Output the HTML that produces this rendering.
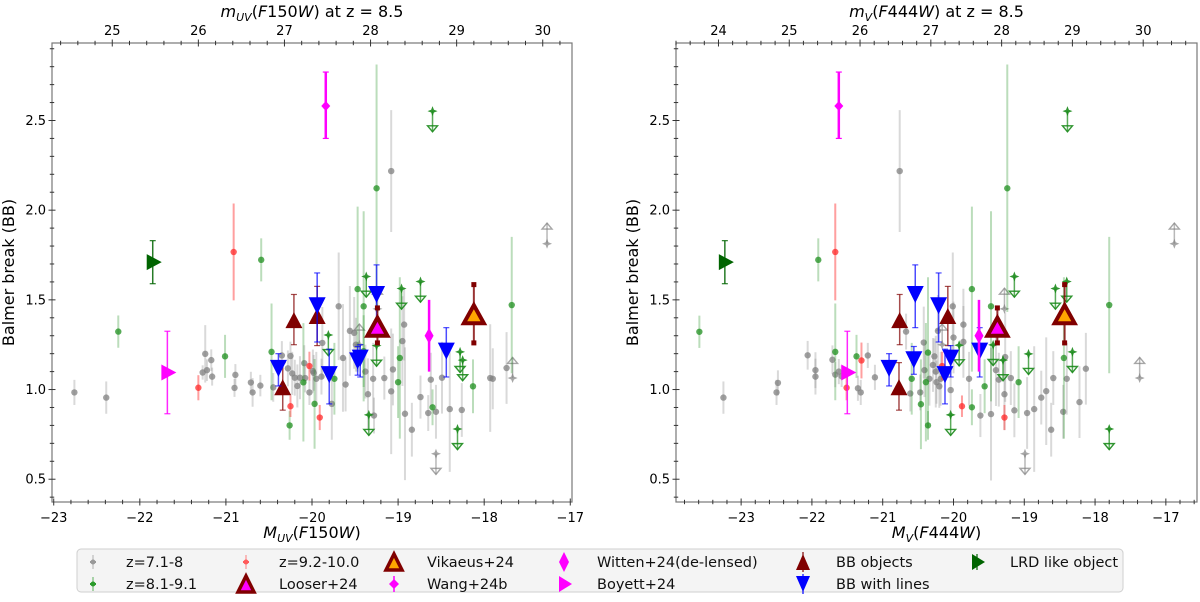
<!DOCTYPE html>
<html><head><meta charset="utf-8"><style>
html,body{margin:0;padding:0;background:#fff;}
svg{display:block;font-family:"DejaVu Sans","Liberation Sans",sans-serif;}
</style></head><body>
<svg id="chart" width="1200" height="602" viewBox="0 0 1200 602" xmlns="http://www.w3.org/2000/svg"></svg>
<script>
// ---------- DATA (left panel: M_UV) ----------
const leftGray=[[-22.76,0.984,.07],[-22.39,0.955,.09],[-21.27,1.095,.04],[-21.24,1.199,.16],[-21.22,1.108,.06],[-21.17,1.164,.06],[-21.16,1.072,.05],[-20.90,1.009,.05],[-20.89,1.082,.06],[-20.71,1.039,.06],[-20.69,0.984,.08],[-20.60,1.022,.06],[-20.45,1.012,.08],[-20.35,1.19,.08],[-20.28,1.118,.1],[-20.25,1.187,.08],[-20.23,1.09,.12],[-20.20,1.066,.1],[-20.17,1.02,.12],[-20.14,1.066,.12],[-20.09,1.147,.1],[-20.08,1.064,.08],[-20.03,0.984,.07],[-19.99,1.103,.12],[-19.98,1.093,.1],[-19.95,1.06,.15],[-19.88,1.26,.2],[-19.89,1.072,.1],[-19.77,0.92,.2],[-19.69,1.464,.3],[-19.64,1.176,.3],[-19.61,1.028,.15],[-19.56,1.327,.25],[-19.51,1.316,.2],[-19.49,1.25,.15],[-19.38,1.10,.15],[-19.35,0.974,.2],[-19.29,1.06,.2],[-19.28,0.855,.1],[-19.16,1.064,.12],[-19.08,2.218,.34],[-19.08,0.99,.35],[-19.06,1.112,.2],[-18.95,1.27,.25],[-18.93,1.362,.2],[-18.92,0.865,.37],[-18.84,0.776,.15],[-18.74,0.958,.12],[-18.65,0.869,.1],[-18.62,1.055,.15],[-18.56,0.876,.15],[-18.49,1.066,.2],[-18.40,0.891,.35],[-18.26,0.886,.15],[-17.93,1.064,.3],[-17.90,1.06,.17],[-17.74,1.12,.2]];
const leftGrayLower=[[-17.27,1.813],[-17.67,1.064],[-19.45,1.25],[-19.24,1.45]];
const leftGrayUpper=[[-18.56,0.642]];
const leftGreen=[[-22.25,1.323,.09],[-21.01,1.185,.12],[-20.59,1.723,.12],[-20.47,1.21,.27],[-20.26,0.80,.08],[-20.10,1.04,.33],[-19.97,0.92,.25],[-19.74,1.06,.2],[-19.47,1.56,.46],[-19.40,1.464,.53],[-19.40,1.214,.2],[-19.25,2.122,.69],[-19.00,1.041,.2],[-18.98,1.176,.45],[-18.60,0.901,.1],[-18.13,1.018,.15],[-17.68,1.471,.38]];
const leftGreenUpper=[[-18.60,2.552],[-19.37,1.63],[-19.81,1.304],[-19.25,1.245],[-19.34,0.859],[-18.96,1.563],[-18.74,1.602],[-18.28,1.21],[-18.25,1.164],[-18.31,0.78]];
const leftRed=[[-21.32,1.01,.07],[-20.91,1.767,.27],[-20.25,0.907,.06],[-20.03,1.131,.08],[-19.91,0.844,.07]];
const leftWang=[[-19.84,2.581,2.40,2.77]];
const leftWitten=[[-18.64,1.30,1.10,1.50]];
const leftBoyett=[[-21.68,1.095,0.865,1.325]];
const leftLRD=[[-21.85,1.71,1.59,1.83]];
const leftVikaeus=[[-18.12,1.42,1.26,1.585]];
const leftLooser=[[-19.24,1.35,1.26,1.455]];
const leftBB=[[-20.21,1.387,1.25,1.53],[-20.34,1.013,0.885,1.15],[-19.94,1.41,1.245,1.575]];
const leftBBLines=[[-20.39,1.118,1.02,1.20],[-19.94,1.467,1.265,1.65],[-19.80,1.083,0.92,1.225],[-19.47,1.16,1.08,1.24],[-19.44,1.175,1.07,1.25],[-19.25,1.53,1.34,1.695],[-18.44,1.214,1.07,1.345]];
// ---------- DATA (right panel: M_V) ----------
const rightGray=[[-23.25,0.955,.09],[-22.50,0.984,.07],[-22.48,1.037,.07],[-22.06,1.191,.08],[-21.95,1.108,.1],[-21.95,1.072,.1],[-21.71,1.166,.08],[-21.67,1.083,.07],[-21.62,1.10,.07],[-21.58,1.074,.06],[-21.35,1.007,.07],[-21.31,0.984,.07],[-21.21,1.19,.07],[-21.11,1.068,.07],[-20.76,2.218,.34],[-20.67,1.323,.1],[-20.61,0.978,.1],[-20.47,0.984,.1],[-20.42,1.262,.2],[-20.41,1.108,.15],[-20.34,1.06,.15],[-20.29,1.137,.15],[-20.27,1.185,.1],[-20.25,1.10,.2],[-20.24,1.041,.12],[-20.22,1.327,.2],[-20.20,1.018,.12],[-20.18,1.06,.15],[-20.04,0.997,.15],[-20.01,1.464,.3],[-20.0,1.29,.2],[-19.86,1.362,.2],[-19.86,1.266,.2],[-19.78,1.06,.15],[-19.62,0.855,.12],[-19.47,0.863,.37],[-19.40,1.108,.2],[-19.36,1.055,.15],[-19.28,0.974,.2],[-19.27,1.181,.25],[-19.19,1.064,.15],[-19.14,0.884,.15],[-18.96,0.869,.2],[-18.86,0.891,.35],[-18.76,0.955,.15],[-18.69,0.991,.3],[-18.62,0.776,.15],[-18.59,1.064,.15],[-18.45,0.876,.15],[-18.40,1.06,.2],[-18.22,0.93,.2],[-18.13,1.116,.2]];
const rightGrayLower=[[-16.88,1.813],[-17.37,1.064],[-19.28,1.45],[-20.16,1.25]];
const rightGrayUpper=[[-18.99,0.642]];
const rightGreen=[[-23.59,1.322,.09],[-21.91,1.723,.12],[-21.67,1.21,.27],[-21.37,1.185,.12],[-20.59,1.06,.2],[-20.46,0.918,.25],[-20.39,1.041,.33],[-20.36,0.80,.08],[-20.36,1.206,.42],[-19.74,1.56,.46],[-19.74,0.901,.1],[-19.56,1.018,.15],[-19.47,1.464,.53],[-19.24,2.122,.69],[-19.08,1.041,.2],[-18.44,1.176,.45],[-17.80,1.471,.38]];
const rightGreenUpper=[[-18.39,2.552],[-19.14,1.63],[-19.92,1.247],[-19.44,1.249],[-19.30,1.164],[-20.04,0.859],[-18.56,1.563],[-18.40,1.602],[-18.94,1.199],[-18.32,1.21],[-17.80,0.78]];
const rightRed=[[-21.67,1.767,.27],[-21.51,1.01,.07],[-21.30,1.162,.1],[-20.16,1.131,.08],[-19.88,0.907,.06],[-19.28,0.844,.07]];
const rightWang=[[-21.62,2.581,2.40,2.77]];
const rightWitten=[[-19.64,1.30,1.10,1.50]];
const rightBoyett=[[-21.50,1.095,0.865,1.325]];
const rightLRD=[[-23.23,1.71,1.59,1.83]];
const rightVikaeus=[[-18.43,1.42,1.26,1.585]];
const rightLooser=[[-19.38,1.35,1.26,1.455]];
const rightBB=[[-20.76,1.387,1.25,1.53],[-20.77,1.013,0.885,1.15],[-20.08,1.41,1.245,1.575]];
const rightBBLines=[[-20.91,1.118,1.02,1.20],[-20.54,1.53,1.345,1.695],[-20.56,1.166,1.085,1.24],[-20.21,1.467,1.265,1.65],[-20.12,1.083,0.92,1.225],[-20.04,1.175,1.07,1.245],[-19.63,1.214,1.07,1.345]];
// ---------- TICKS ----------
const bottomTicksLeft=[-23,-22,-21,-20,-19,-18,-17];
const bottomTicksRight=[-23,-22,-21,-20,-19,-18,-17];
const topTicksLeft=[25,26,27,28,29,30];
const topTicksRight=[24,25,26,27,28,29,30];
const yTicks=[0.5,1.0,1.5,2.0,2.5];
const magOffset=47.32;

const NS="http://www.w3.org/2000/svg";
const svg=document.getElementById('chart');
function mk(tag,attrs,parent){const e=document.createElementNS(NS,tag);for(const k in attrs)e.setAttribute(k,attrs[k]);parent.appendChild(e);return e;}

function panel(P){
  const g=mk('g',{},svg);
  
  
  const sx=v=>P.x0+(v-P.xmin)/(P.xmax-P.xmin)*(P.x1-P.x0);
  const sy=v=>P.y1-(v-0.373)/(2.932-0.373)*(P.y1-P.y0);
  const unitY=(P.y1-P.y0)/(2.932-0.373);
  // frame
  const fr=mk('rect',{x:P.x0,y:P.y0,width:P.x1-P.x0,height:P.y1-P.y0,fill:'none',stroke:'#777','stroke-width':1.2},g);
  
  
  // ticks
  const tk=mk('g',{stroke:'#333','stroke-width':1},g);
  for(let v=Math.ceil(P.xmin*5)/5;v<=P.xmax+1e-6;v+=0.2){
    const x=sx(v),maj=Math.abs(v-Math.round(v))<1e-6;const l=maj?3.5:2.2;
    mk('line',{x1:x,x2:x,y1:P.y1-l,y2:P.y1+l},tk);
  }
  for(let m=Math.ceil((P.xmin+magOffset)*5)/5;m<=P.xmax+magOffset+1e-6;m+=0.2){
    const x=sx(m-magOffset),maj=Math.abs(m-Math.round(m))<1e-6;const l=maj?3.5:2.2;
    mk('line',{x1:x,x2:x,y1:P.y0-l,y2:P.y0+l},tk);
  }
  for(let v=0.4;v<=2.93;v+=0.1){
    const y=sy(v),maj=Math.abs(v*2-Math.round(v*2))<1e-6;const l=maj?3.5:2.2;
    mk('line',{x1:P.x0-l,x2:P.x0+l,y1:y,y2:y},tk);
  }
  P.bt.forEach(v=>{const t=mk('text',{x:sx(v),y:P.y1+20,'text-anchor':'middle','font-size':13},g);t.textContent=(v<0?'\u2212':'')+Math.abs(v);
    });
  P.tt.forEach(v=>{const t=mk('text',{x:sx(v-magOffset),y:P.y0-8,'text-anchor':'middle','font-size':13},g);t.textContent=v;
    });
  yTicks.forEach(v=>{const t=mk('text',{x:P.x0-6,y:sy(v)+4.5,'text-anchor':'end','font-size':13},g);t.textContent=v.toFixed(1);
    });
  // labels
  const xl=mk('text',{x:(P.x0+P.x1)/2,y:P.y1+36,'text-anchor':'middle','font-size':16},g);
  xl.innerHTML=P.xlab;
  
  const tl=mk('text',{x:(P.x0+P.x1)/2,y:P.y0-26,'text-anchor':'middle','font-size':16},g);
  tl.innerHTML=P.tlab;
  
  const yl=mk('text',{x:0,y:0,'text-anchor':'middle','font-size':16,transform:`translate(${P.x0-38},${(P.y0+P.y1)/2}) rotate(-90)`},g);
  yl.textContent='Balmer break (BB)';
  

  const cg=mk('g',{},g);
  function err(x,y1,y2,col,w,op,cap){
    const l=mk('line',{x1:sx(x),x2:sx(x),y1:sy(y1),y2:sy(y2),stroke:col,'stroke-width':w,'stroke-opacity':op},cg);
    
    if(cap){[y1,y2].forEach(yy=>{mk('line',{x1:sx(x)-3,x2:sx(x)+3,y1:sy(yy),y2:sy(yy),stroke:col,'stroke-width':1.2,'stroke-opacity':op},cg);});}
  }
  function star(x,y,col,op,name){
    const X=sx(x),Y=sy(y),r=5,i=1.4;
    const p=mk('path',{d:`M${X},${Y-r}L${X+i},${Y-i}L${X+r},${Y}L${X+i},${Y+i}L${X},${Y+r}L${X-i},${Y+i}L${X-r},${Y}L${X-i},${Y-i}Z`,fill:col,'fill-opacity':op},cg);
    
  }
  function limit(x,y,col,op,dir,name){
    const X=sx(x),Y=sy(y),L=0.115*unitY*dir;
    mk('line',{x1:X,x2:X,y1:Y,y2:Y+L,stroke:col,'stroke-width':1.5,'stroke-opacity':op*0.8},cg);
    const d=dir>0?`M${X-5},${Y+L-6}L${X},${Y+L}L${X+5},${Y+L-6}Z`:`M${X-5},${Y+L+6}L${X},${Y+L}L${X+5},${Y+L+6}Z`;
    const a=mk('path',{d:d,fill:dir<0?'none':'none',stroke:col,'stroke-width':1.4,'stroke-opacity':op},cg);
    
    star(x,y,col,op,name);
  }
  function dot(d,col,op,eop,name){
    err(d[0],d[1]-d[2],d[1]+d[2],col,2,eop,false);
    const c=mk('circle',{cx:sx(d[0]),cy:sy(d[1]),r:3.2,fill:col,'fill-opacity':op},cg);
    
  }
  function tri(X,Y,w,h,up,col,stroke,sw){
    const d=up?`M${X-w/2},${Y+h/2}L${X+w/2},${Y+h/2}L${X},${Y-h/2}Z`:`M${X-w/2},${Y-h/2}L${X+w/2},${Y-h/2}L${X},${Y+h/2}Z`;
    return mk('path',{d:d,fill:col,stroke:stroke||'none','stroke-width':sw||0},cg);
  }
  P.gray.forEach(d=>dot(d,'#808080',0.75,0.3,'gray-point'));
  P.grayLo.forEach(d=>limit(d[0],d[1],'#808080',0.7,-1,'gray-lower-limit'));
  P.grayUp.forEach(d=>limit(d[0],d[1],'#808080',0.7,1,'gray-upper-limit'));
  P.green.forEach(d=>dot(d,'#1f8f1f',0.75,0.3,'green-point'));
  P.greenUp.forEach(d=>limit(d[0],d[1],'#1a8a1a',0.9,1,'green-upper-limit'));
  P.red.forEach(d=>dot(d,'#ff2a2a',0.75,0.45,'red-point'));
  P.bb.forEach(d=>{err(d[0],d[2],d[3],'#800000',1.5,0.7,true);const t=tri(sx(d[0]),sy(d[1]),17,16,true,'#800000');
    });
  P.bbl.forEach(d=>{err(d[0],d[2],d[3],'#0000ff',1.5,0.7,true);const t=tri(sx(d[0]),sy(d[1]),17,17,false,'#0000ff');
    });
  P.vik.forEach(d=>{err(d[0],d[2],d[3],'#800000',2,0.8,false);
    mk('rect',{x:sx(d[0])-2.5,y:sy(d[3])-2.5,width:5,height:5,fill:'#800000'},cg);mk('rect',{x:sx(d[0])-2.5,y:sy(d[2])-2.5,width:5,height:5,fill:'#800000'},cg);
    const t=tri(sx(d[0]),sy(d[1]),20,18,true,'#ffa500','#800000',4);
    });
  P.loo.forEach(d=>{err(d[0],d[2],d[3],'#800000',2,0.8,false);
    mk('rect',{x:sx(d[0])-2.5,y:sy(d[3])-2.5,width:5,height:5,fill:'#800000'},cg);mk('rect',{x:sx(d[0])-2.5,y:sy(d[2])-2.5,width:5,height:5,fill:'#800000'},cg);
    const t=tri(sx(d[0]),sy(d[1]),20,18,true,'#ff00ff','#800000',4);
    });
  function diamond(d,name,w,h,cap){
    err(d[0],d[2],d[3],'#ff00ff',2.5,1,cap);
    const X=sx(d[0]),Y=sy(d[1]);
    const p=mk('path',{d:`M${X},${Y-h}L${X+w},${Y}L${X},${Y+h}L${X-w},${Y}Z`,fill:'#ff00ff'},cg);
    
  }
  P.wang.forEach(d=>diamond(d,'wang24b-point',4.5,5,true));
  P.witten.forEach(d=>diamond(d,'witten24-point',4.5,8,false));
  function rtri(d,col,name){
    err(d[0],d[2],d[3],col,1.5,0.85,true);
    const X=sx(d[0]),Y=sy(d[1]);
    const p=mk('path',{d:`M${X-6},${Y-8}L${X+9},${Y}L${X-6},${Y+8}Z`,fill:col},cg);
    
  }
  P.boy.forEach(d=>rtri(d,'#ff00ff','boyett24-point'));
  P.lrd.forEach(d=>rtri(d,'#006400','lrd-like-object'));
}
panel({name:'left-panel',x0:52,x1:572,y0:43,y1:502,xmin:-23.02,xmax:-16.98,bt:bottomTicksLeft,tt:topTicksLeft,
  xlab:'<tspan font-style="italic">M</tspan><tspan font-style="italic" font-size="11" dy="4">UV</tspan><tspan dy="-4">(</tspan><tspan font-style="italic">F</tspan>150<tspan font-style="italic">W</tspan>)',
  tlab:'<tspan font-style="italic">m</tspan><tspan font-style="italic" font-size="11" dy="4">UV</tspan><tspan dy="-4">(</tspan><tspan font-style="italic">F</tspan>150<tspan font-style="italic">W</tspan>) at z = 8.5',
  gray:leftGray,grayLo:leftGrayLower,grayUp:leftGrayUpper,green:leftGreen,greenUp:leftGreenUpper,red:leftRed,
  wang:leftWang,witten:leftWitten,boy:leftBoyett,lrd:leftLRD,vik:leftVikaeus,loo:leftLooser,bb:leftBB,bbl:leftBBLines});
panel({name:'right-panel',x0:676,x1:1197,y0:43,y1:502,xmin:-23.92,xmax:-16.56,bt:bottomTicksRight,tt:topTicksRight,
  xlab:'<tspan font-style="italic">M</tspan><tspan font-style="italic" font-size="11" dy="4">V</tspan><tspan dy="-4">(</tspan><tspan font-style="italic">F</tspan>444<tspan font-style="italic">W</tspan>)',
  tlab:'<tspan font-style="italic">m</tspan><tspan font-style="italic" font-size="11" dy="4">V</tspan><tspan dy="-4">(</tspan><tspan font-style="italic">F</tspan>444<tspan font-style="italic">W</tspan>) at z = 8.5',
  gray:rightGray,grayLo:rightGrayLower,grayUp:rightGrayUpper,green:rightGreen,greenUp:rightGreenUpper,red:rightRed,
  wang:rightWang,witten:rightWitten,boy:rightBoyett,lrd:rightLRD,vik:rightVikaeus,loo:rightLooser,bb:rightBB,bbl:rightBBLines});

// ---------- LEGEND ----------
const lg=mk('g',{},svg);


mk('rect',{x:77,y:549,width:1046,height:43,rx:4,fill:'#f4f4f4',stroke:'#cfcfcf'},lg);
const legendEntries=[
 ['z=7.1-8',93,562,'gdot','#999'],['z=8.1-9.1',93,584,'gdot','#2a9a2a'],
 ['z=9.2-10.0',246,562,'gdot','#ff5a5a'],['Looser+24',246,584,'loo'],
 ['Vikaeus+24',394,562,'vik'],['Wang+24b',394,584,'wang'],
 ['Witten+24(de-lensed)',564,562,'wit'],['Boyett+24',564,584,'boy'],
 ['BB objects',803,562,'bb'],['BB with lines',803,584,'bbl'],
 ['LRD like object',977,562,'lrd']];
legendEntries.forEach(e=>{
  const [lab,x,y,type,col]=e;
  const eg=mk('g',{},lg);
  
  
  if(type==='gdot'){mk('line',{x1:x,x2:x,y1:y-7,y2:y+7,stroke:col,'stroke-opacity':0.5,'stroke-width':1.5},eg);mk('line',{x1:x-3,x2:x+3,y1:y,y2:y,stroke:col,'stroke-width':2},eg);mk('circle',{cx:x,cy:y,r:2.5,fill:col},eg);}
  else if(type==='loo'||type==='vik'){mk('path',{d:`M${x-8},${y+8}L${x+8},${y+8}L${x},${y-8}Z`,fill:type==='loo'?'#ff00ff':'#ffa500',stroke:'#800000','stroke-width':3.5},eg);}
  else if(type==='wang'){mk('line',{x1:x,x2:x,y1:y-8,y2:y+8,stroke:'#ff00ff','stroke-width':1.5},eg);mk('path',{d:`M${x},${y-5}L${x+5},${y}L${x},${y+5}L${x-5},${y}Z`,fill:'#ff00ff'},eg);}
  else if(type==='wit'){mk('path',{d:`M${x},${y-10}L${x+5},${y}L${x},${y+10}L${x-5},${y}Z`,fill:'#ff00ff'},eg);}
  else if(type==='boy'){mk('path',{d:`M${x-5},${y-8}L${x+8},${y}L${x-5},${y+8}Z`,fill:'#ff00ff'},eg);}
  else if(type==='lrd'){mk('line',{x1:x,x2:x,y1:y-8,y2:y+8,stroke:'#006400','stroke-width':1.2},eg);mk('path',{d:`M${x-5},${y-8}L${x+8},${y}L${x-5},${y+8}Z`,fill:'#006400'},eg);}
  else if(type==='bb'){mk('line',{x1:x,x2:x,y1:y-10,y2:y+10,stroke:'#800000','stroke-width':1.2},eg);mk('path',{d:`M${x-7},${y+8}L${x+7},${y+8}L${x},${y-8}Z`,fill:'#800000'},eg);}
  else if(type==='bbl'){mk('line',{x1:x,x2:x,y1:y-10,y2:y+10,stroke:'#0000ff','stroke-width':1.2},eg);mk('path',{d:`M${x-7},${y-8}L${x+7},${y-8}L${x},${y+8}Z`,fill:'#0000ff'},eg);}
  const t=mk('text',{x:x+33,y:y+5,'font-size':14.5,fill:'#111'},eg);
  t.textContent=lab;
});
</script>
</body></html>
